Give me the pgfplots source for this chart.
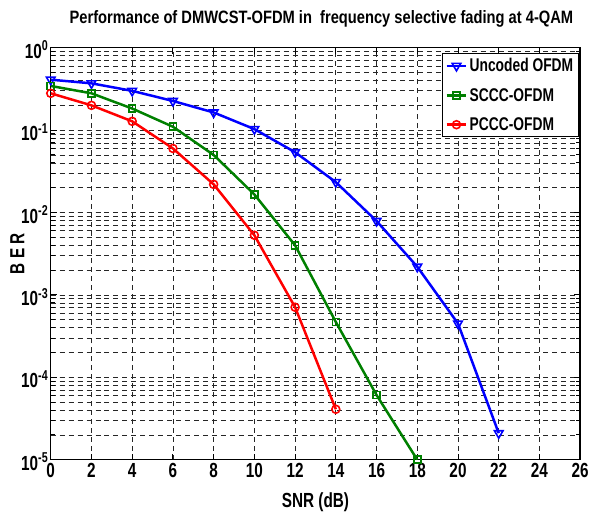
\documentclass[border=0pt]{standalone}
\usepackage{fontspec}
\setmainfont{Liberation Sans}[FakeStretch=0.82]
\newfontfamily\narrowfont{Liberation Sans}[FakeStretch=0.75]
\usepackage{pgfplots}
\pgfplotsset{compat=1.18}

\definecolor{mgreen}{rgb}{0,0.5,0}
\newcommand{\titlefont}{\fontsize{18}{21}\selectfont\bfseries}
\newcommand{\tickfont}{\narrowfont\fontsize{20.5}{23}\selectfont\bfseries}
\newcommand{\legfont}{\narrowfont\fontsize{18.5}{21}\selectfont\bfseries}

\begin{document}
\begin{tikzpicture}
\begin{axis}[
  scale only axis,
  width=532pt, height=414pt,
  xmin=0, xmax=26, ymin=1e-5, ymax=1,
  ymode=log,
  xtick={0,2,...,26},
  minor x tick num=0,
  ytick={1e-5,1e-4,1e-3,1e-2,1e-1,1},
  yticklabels={10\textsuperscript{-5},10\textsuperscript{-4},10\textsuperscript{-3},10\textsuperscript{-2},10\textsuperscript{-1},10\textsuperscript{0}},
  /pgf/number format/assume math mode=true,
  tick label style={font=\tickfont},
  yticklabel style={xshift=1pt, yshift=-2pt},
  title style={font=\titlefont, at={(rel axis cs:0.5,1)}, anchor=base, yshift=18pt, xshift=6pt},
  title={Performance of DMWCST-OFDM in\ \ frequency selective fading at 4-QAM},
  xlabel={SNR (dB)},
  ylabel={B E R},
  every axis x label/.style={font=\tickfont, at={(rel axis cs:0.5,0)}, anchor=base, yshift=-48pt},
  every axis y label/.style={font=\tickfont, at={(axis description cs:-0.05,0.5)}, rotate=90, anchor=base},
  grid=both,
  major grid style={black!85, line width=0.8pt, dash pattern=on 5pt off 4pt},
  minor grid style={black!85, line width=0.8pt, dash pattern=on 5pt off 4pt},
  axis line style={line width=1.4pt},
  tick style={black, line width=1pt},
  major tick length=6pt, minor tick length=4pt,
  legend cell align=left,
  legend style={at={(rel axis cs:0.997,0.987)}, anchor=north east, draw=black, line width=0.8pt,
    font=\legfont, row sep=11pt, inner sep=3pt},
  legend image code/.code={\draw[mark repeat=2,mark phase=2] plot coordinates {(0pt,0pt) (10pt,0pt) (20pt,0pt)};},
]
\addplot[blue, line width=2.5pt, mark=triangle, mark size=5pt, mark options={rotate=180, line width=1.6pt}]
coordinates {(0,0.41) (2,0.37) (4,0.30) (6,0.226) (8,0.164) (10,0.103) (12,0.054) (14,0.0234) (16,0.0079) (18,0.0022) (20,4.5e-4) (22,2.1e-5)};
\addlegendentry{Uncoded OFDM}
\addplot[mgreen, line width=2.5pt, mark=square, mark size=3.5pt, mark options={line width=1.6pt}]
coordinates {(0,0.344) (2,0.28) (4,0.183) (6,0.11) (8,0.050) (10,0.0166) (12,0.004) (14,4.7e-4) (16,6.1e-5) (18,1e-5)};
\addlegendentry{SCCC-OFDM}
\addplot[red, line width=2.5pt, mark=o, mark size=4pt, mark options={line width=1.6pt}]
coordinates {(0,0.28) (2,0.20) (4,0.128) (6,0.060) (8,0.022) (10,0.0053) (12,7.1e-4) (14,4.1e-5)};
\addlegendentry{PCCC-OFDM}
\end{axis}
\path ([shift={(-51pt,-52pt)}]current axis.south west) rectangle ([shift={(9pt,48pt)}]current axis.north east);
\end{tikzpicture}
\end{document}
